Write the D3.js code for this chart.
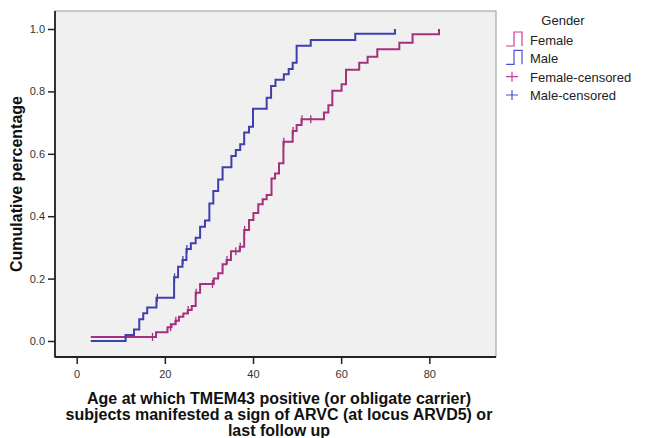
<!DOCTYPE html>
<html>
<head>
<meta charset="utf-8">
<script src="https://cdn.jsdelivr.net/npm/d3@7"></script>
<style>
  body { margin: 0; background: #fff; }
  svg { display: block; font-family: "Liberation Sans", Arial, sans-serif; }
</style>
</head>
<body>
<div id="chart"></div>
<script>
// step data (age, cumulative proportion)
const maleAge = [3.2, 11.1, 13.0, 14.2, 15.1, 16.0, 18.1, 22.1, 23.0, 24.0, 24.9, 25.9, 27.0, 28.0, 29.1, 30.1, 31.0, 32.1, 33.1, 35.1, 36.1, 37.1, 38.0, 39.1, 40.0, 43.1, 44.1, 45.1, 47.0, 48.1, 49.0, 49.9, 53.1, 63.2, 72.2];
const maleCum = [0, 0.019, 0.037, 0.07, 0.089, 0.107, 0.139, 0.204, 0.238, 0.26, 0.295, 0.313, 0.331, 0.366, 0.386, 0.441, 0.481, 0.518, 0.557, 0.593, 0.612, 0.631, 0.668, 0.687, 0.744, 0.78, 0.817, 0.837, 0.855, 0.872, 0.892, 0.946, 0.965, 0.985, 1.0];
const femaleAge = [3.2, 18.0, 20.6, 21.5, 22.4, 23.2, 24.2, 25.2, 26.1, 27.0, 28.0, 31.1, 32.1, 33.1, 34.0, 35.0, 37.0, 38.0, 39.1, 40.1, 41.2, 42.2, 43.1, 44.2, 45.0, 45.9, 46.9, 49.0, 49.9, 51.0, 56.1, 57.1, 58.0, 60.1, 61.1, 64.1, 66.0, 68.2, 73.2, 76.2, 82.2];
const femaleCum = [0.013, 0.028, 0.044, 0.054, 0.065, 0.078, 0.088, 0.099, 0.112, 0.155, 0.183, 0.2, 0.217, 0.246, 0.26, 0.288, 0.302, 0.356, 0.388, 0.41, 0.438, 0.454, 0.468, 0.521, 0.537, 0.57, 0.639, 0.673, 0.692, 0.711, 0.732, 0.756, 0.802, 0.823, 0.869, 0.892, 0.911, 0.935, 0.956, 0.983, 1.0];
const maleCensored = [18.3, 22.2, 24.1, 25.0];
const femaleCensored = [17.2, 21.3, 22.5, 25.3, 27.1, 30.8, 34.1, 36.1, 37.1, 38.1, 47.0, 49.1, 51.1, 53.1];

const xTicks = [0, 20, 40, 60, 80];
const yTicks = [0, 0.2, 0.4, 0.6, 0.8, 1.0];
const legendLabels = ["Female", "Male", "Female-censored", "Male-censored"];
const titleLines = ["Age at which TMEM43 positive (or obligate carrier)", "subjects manifested a sign of ARVC (at locus ARVD5) or", "last follow up"];

const width = 645;
const height = 438;
const plot = { left: 55, right: 496, top: 11, bottom: 357 };
const femaleColor = "#a5307d";
const maleColor = "#3f3fae";

const svg = d3.select("#chart").append("svg")
    .attr("width", width)
    .attr("height", height);

const x = d3.scaleLinear().domain([-4.92, 95.13]).range([plot.left, plot.right]);
const y = d3.scaleLinear().domain([-0.0513, 1.0577]).range([plot.bottom, plot.top]);

svg.append("rect")
    .attr("x", plot.left).attr("y", plot.top)
    .attr("width", plot.right - plot.left).attr("height", plot.bottom - plot.top)
    .attr("fill", "#f0f0f0")
    .attr("stroke", "#9a9a9a")
    .attr("stroke-width", 1);

// axes
const yAxis = svg.append("g")
    .attr("transform", "translate(" + plot.left + ",0)")
    .call(d3.axisLeft(y).tickValues(yTicks).tickFormat(d3.format(".1f")).tickSize(7).tickPadding(3));
const xAxis = svg.append("g")
    .attr("transform", "translate(0," + plot.bottom + ")")
    .call(d3.axisBottom(x).tickValues(xTicks).tickSize(7).tickPadding(6));

[xAxis, yAxis].forEach(g => {
    g.select(".domain").remove();
    g.selectAll("line").attr("stroke", "#222").attr("stroke-width", 1.5);
    g.selectAll("text").attr("fill", "#333").style("font-size", "11px");
});

svg.append("line")
    .attr("x1", plot.left).attr("x2", plot.left)
    .attr("y1", plot.top).attr("y2", plot.bottom + 0.5)
    .attr("stroke", "#222").attr("stroke-width", 1.8);
svg.append("line")
    .attr("x1", plot.left).attr("x2", plot.right)
    .attr("y1", plot.bottom).attr("y2", plot.bottom)
    .attr("stroke", "#222").attr("stroke-width", 1.8);

// step curves
const line = d3.line()
    .x(d => x(d[0]))
    .y(d => y(d[1]))
    .curve(d3.curveStepAfter);

function levelAt(ages, cums, t) {
    const i = d3.bisectRight(ages, t) - 1;
    return cums[Math.max(i, 0)];
}

const series = [
    { ages: femaleAge, cums: femaleCum, cens: femaleCensored, color: femaleColor },
    { ages: maleAge, cums: maleCum, cens: maleCensored, color: maleColor }
];

series.forEach(s => {
    svg.append("path")
        .datum(d3.zip(s.ages, s.cums))
        .attr("fill", "none")
        .attr("stroke", s.color)
        .attr("stroke-width", 2)
        .attr("d", line);

    svg.append("g").selectAll("line")
        .data(s.cens)
        .join("line")
        .attr("x1", d => x(d)).attr("x2", d => x(d))
        .attr("y1", d => y(levelAt(s.ages, s.cums, d)) - 4)
        .attr("y2", d => y(levelAt(s.ages, s.cums, d)) + 4)
        .attr("stroke", s.color)
        .attr("stroke-width", 1.3);
});

// legend
const legend = svg.append("g");
legend.append("text")
    .attr("x", 563).attr("y", 25)
    .attr("text-anchor", "middle")
    .attr("fill", "#222")
    .style("font-size", "13px")
    .text("Gender");

const legendColors = [femaleColor, maleColor, femaleColor, maleColor];
const legendY = d3.scalePoint().domain(legendLabels).range([40, 95]);

legendLabels.forEach((label, i) => {
    const cy = legendY(label);
    const c = d3.color(legendColors[i]).brighter(0.6);
    if (i < 2) {
        legend.append("path")
            .attr("d", "M506," + (cy + 6) + "H514V" + (cy - 8) + "H522V" + (cy + 6))
            .attr("fill", "none")
            .attr("stroke", c)
            .attr("stroke-width", 1.2);
    } else {
        legend.append("path")
            .attr("d", "M506," + cy + "H518M512," + (cy - 5) + "V" + (cy + 5))
            .attr("fill", "none")
            .attr("stroke", c)
            .attr("stroke-width", 1.2);
    }
    legend.append("text")
        .attr("x", 530).attr("y", cy + 5)
        .attr("fill", "#222")
        .style("font-size", "13px")
        .text(label);
});

// axis titles
svg.append("text")
    .attr("transform", "translate(22,184) rotate(-90)")
    .attr("text-anchor", "middle")
    .attr("fill", "#111")
    .style("font-size", "16px")
    .style("font-weight", "bold")
    .text("Cumulative percentage");

svg.append("g").selectAll("text")
    .data(titleLines)
    .join("text")
    .attr("x", 279)
    .attr("y", (d, i) => 404 + i * 16)
    .attr("text-anchor", "middle")
    .attr("fill", "#111")
    .style("font-size", "16px")
    .style("font-weight", "bold")
    .text(d => d);
</script>
</body>
</html>
